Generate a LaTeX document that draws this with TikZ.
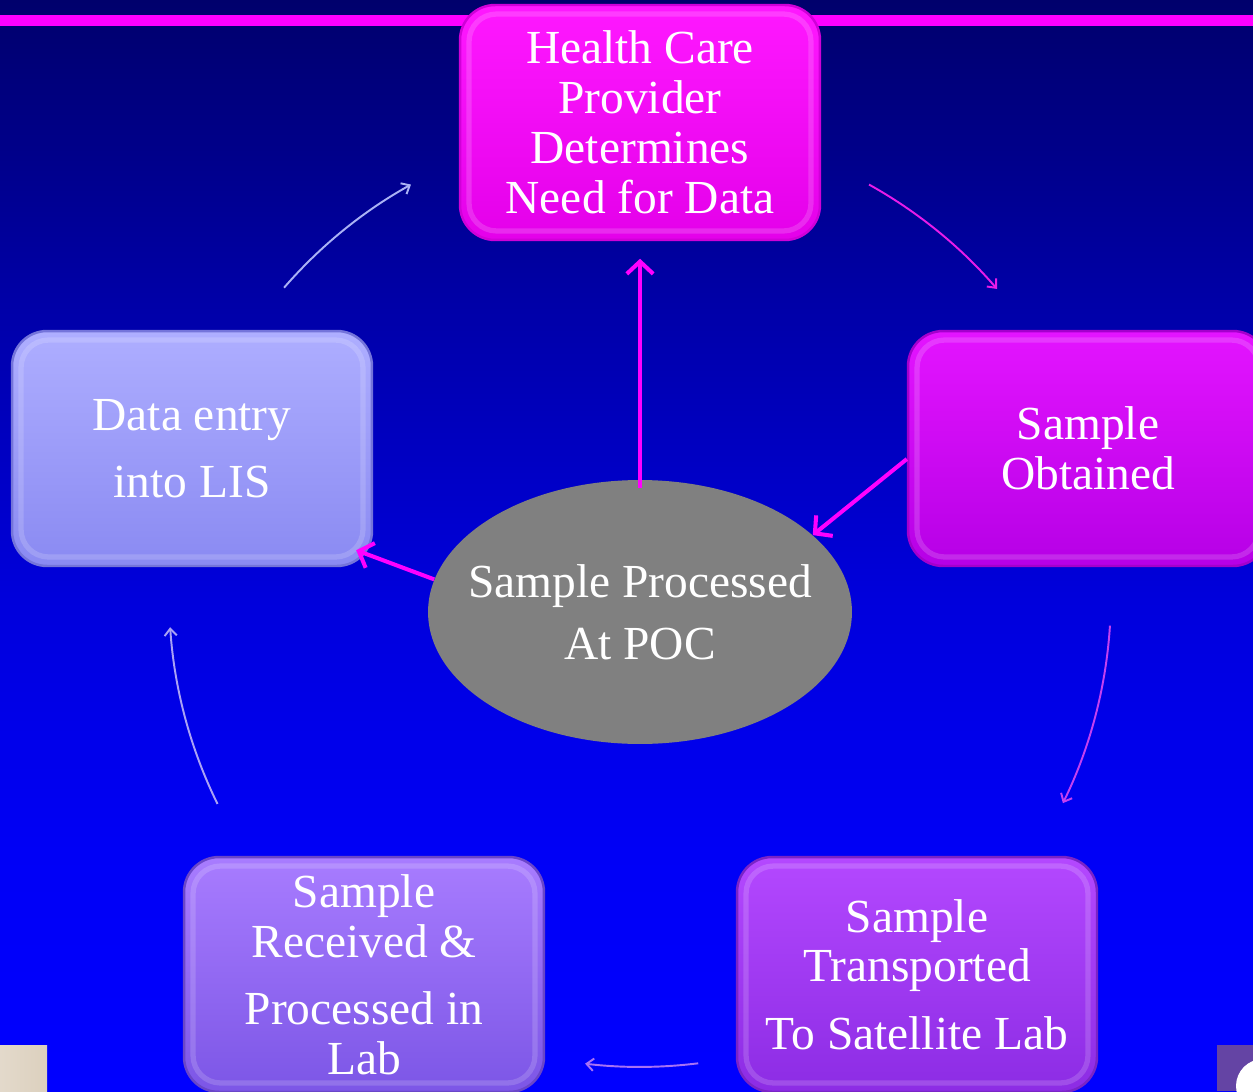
\documentclass[tikz,border=0pt]{standalone}
\usepackage{fontspec}
\setmainfont{Liberation Serif}
\usetikzlibrary{arrows.meta,shapes.geometric}

\definecolor{navytop}{RGB}{0,0,108}
\definecolor{navymid}{RGB}{0,0,168}
\definecolor{bluemid}{RGB}{0,0,220}
\definecolor{bluelow}{RGB}{0,0,246}
\definecolor{bluebot}{RGB}{0,0,255}
\definecolor{rule}{HTML}{FF00FF}

\definecolor{magtop}{HTML}{FF18FF}
\definecolor{magbot}{HTML}{E400EA}
\definecolor{magrim}{HTML}{D000D8}
\definecolor{vtop}{HTML}{E414FF}
\definecolor{vbot}{HTML}{B600E6}
\definecolor{vrim}{HTML}{A400CC}
\definecolor{ptop}{HTML}{B448FF}
\definecolor{pbot}{HTML}{8C2CE4}
\definecolor{prim}{HTML}{7A24C6}
\definecolor{ltop}{HTML}{A87CFF}
\definecolor{lbot}{HTML}{7C56E6}
\definecolor{lrim}{HTML}{6A46C8}
\definecolor{ltop2}{HTML}{AEAEFF}
\definecolor{lbot2}{HTML}{8A8AF2}
\definecolor{lrim2}{HTML}{7474DA}

\definecolor{arcA}{HTML}{E81CE8}
\definecolor{arcB}{HTML}{C440F0}
\definecolor{arcC}{HTML}{A872F4}
\definecolor{arcD}{HTML}{AAA2F4}
\definecolor{arcE}{HTML}{AAB2F4}

\definecolor{beige}{HTML}{DCD0BE}
\definecolor{cornerpurple}{HTML}{6444A4}

\pgfdeclareverticalshading{backdrop}{100bp}{%
  color(0bp)=(bluebot); color(25bp)=(bluebot); color(36bp)=(bluelow);
  color(47.5bp)=(bluemid); color(61bp)=(navymid); color(75bp)=(navytop);
  color(100bp)=(navytop)}

\newcommand{\boxfont}{\fontsize{27}{28.4}\selectfont}

\tikzset{
  pill/.style={rounded corners=0.7cm, minimum width=7.2cm, minimum height=4.7cm,
    inner sep=0pt, text=white, align=center, font=\boxfont, line width=1.4pt,
    path picture={\draw[white, opacity=0.16, line width=3pt, rounded corners=0.55cm]
      ([shift={(9,-9)}]path picture bounding box.north west) rectangle
      ([shift={(-9,9)}]path picture bounding box.south east);}},
  hub/.style={ellipse, fill=gray, minimum width=8.48cm, minimum height=5.28cm,
    inner sep=0pt},
  hubtext/.style={text=white, align=center, font=\boxfont, inner sep=0pt},
  bigarrow/.style={draw=rule, line width=2.3pt, -{Straight Barb[length=7pt,width=15pt]}},
  cyclearrow/.style={line width=1.1pt, -{Straight Barb[length=4pt,width=7pt]}},
}

\begin{document}
\begin{tikzpicture}[x=0.02cm, y=0.02cm]
  \useasboundingbox (0,0) rectangle (1253,-1091);
  \clip (0,0) rectangle (1253,-1091);

  % backdrop and top rule
  \shade[shading=backdrop] (0,0) rectangle (1253,-1091);
  \fill[rule] (0,-15) rectangle (1253,-26);

  % small corner pieces at the foot of the page
  \shade[left color=beige!80!white, right color=beige] (0,-1045) rectangle (47,-1091);
  \fill[cornerpurple] (1217,-1045) rectangle (1253,-1091);
  \fill[white] (1263,-1086) circle[radius=27];

  % process steps
  \node[pill, top color=magtop, bottom color=magbot, draw=magrim] (need) at (640,-122.5)
    {Health Care\\Provider\\Determines\\Need for Data};
  \node[pill, top color=vtop, bottom color=vbot, draw=vrim] (obtain) at (1088,-448.5)
    {Sample\\Obtained};
  \node[pill, top color=ptop, bottom color=pbot, draw=prim] (transport) at (917,-974.5)
    {Sample\\Transported\\[10pt]To Satellite Lab};
  \node[pill, top color=ltop, bottom color=lbot, draw=lrim] (received) at (364,-974.5)
    {Sample\\Received \&\\[10pt]Processed in\\Lab};
  \node[pill, top color=ltop2, bottom color=lbot2, draw=lrim2] (entry) at (192,-448.5)
    {Data entry\\[10pt]into LIS};

  % point-of-care shortcut
  \node[hub] (poc) at (640,-612) {};
  \node[hubtext] (poclabel) at (poc.center) {Sample Processed\\[7pt]At POC};

  \draw[bigarrow] ([yshift=-5]poc.north) -- ([yshift=-10]need.south);
  \draw[bigarrow] ([yshift=-6]obtain.west) -- (poc.24);
  \draw[bigarrow] (poc.171) -- ([shift={(-17,17)}]entry.south east);

  % outer cycle
  \coordinate (ctr) at (640,-596);
  \coordinate (a0) at ([shift={(60.9:9.42cm)}]ctr);
  \coordinate (b0) at ([shift={(-3.6:9.42cm)}]ctr);
  \coordinate (c0) at ([shift={(-82.9:9.42cm)}]ctr);
  \coordinate (d0) at ([shift={(206.2:9.42cm)}]ctr);
  \coordinate (e0) at ([shift={(139.1:9.42cm)}]ctr);

  \draw[cyclearrow, arcA] (a0) arc[start angle=60.9, end angle=40.7, radius=9.42cm];
  \draw[cyclearrow, arcB] (b0) arc[start angle=-3.6, end angle=-26.1, radius=9.42cm];
  \draw[cyclearrow, arcC] (c0) arc[start angle=-82.9, end angle=-96.7, radius=9.42cm];
  \draw[cyclearrow, arcD] (d0) arc[start angle=206.2, end angle=183.8, radius=9.42cm];
  \draw[cyclearrow, arcE] (e0) arc[start angle=139.1, end angle=119.1, radius=9.42cm];
\end{tikzpicture}
\end{document}
